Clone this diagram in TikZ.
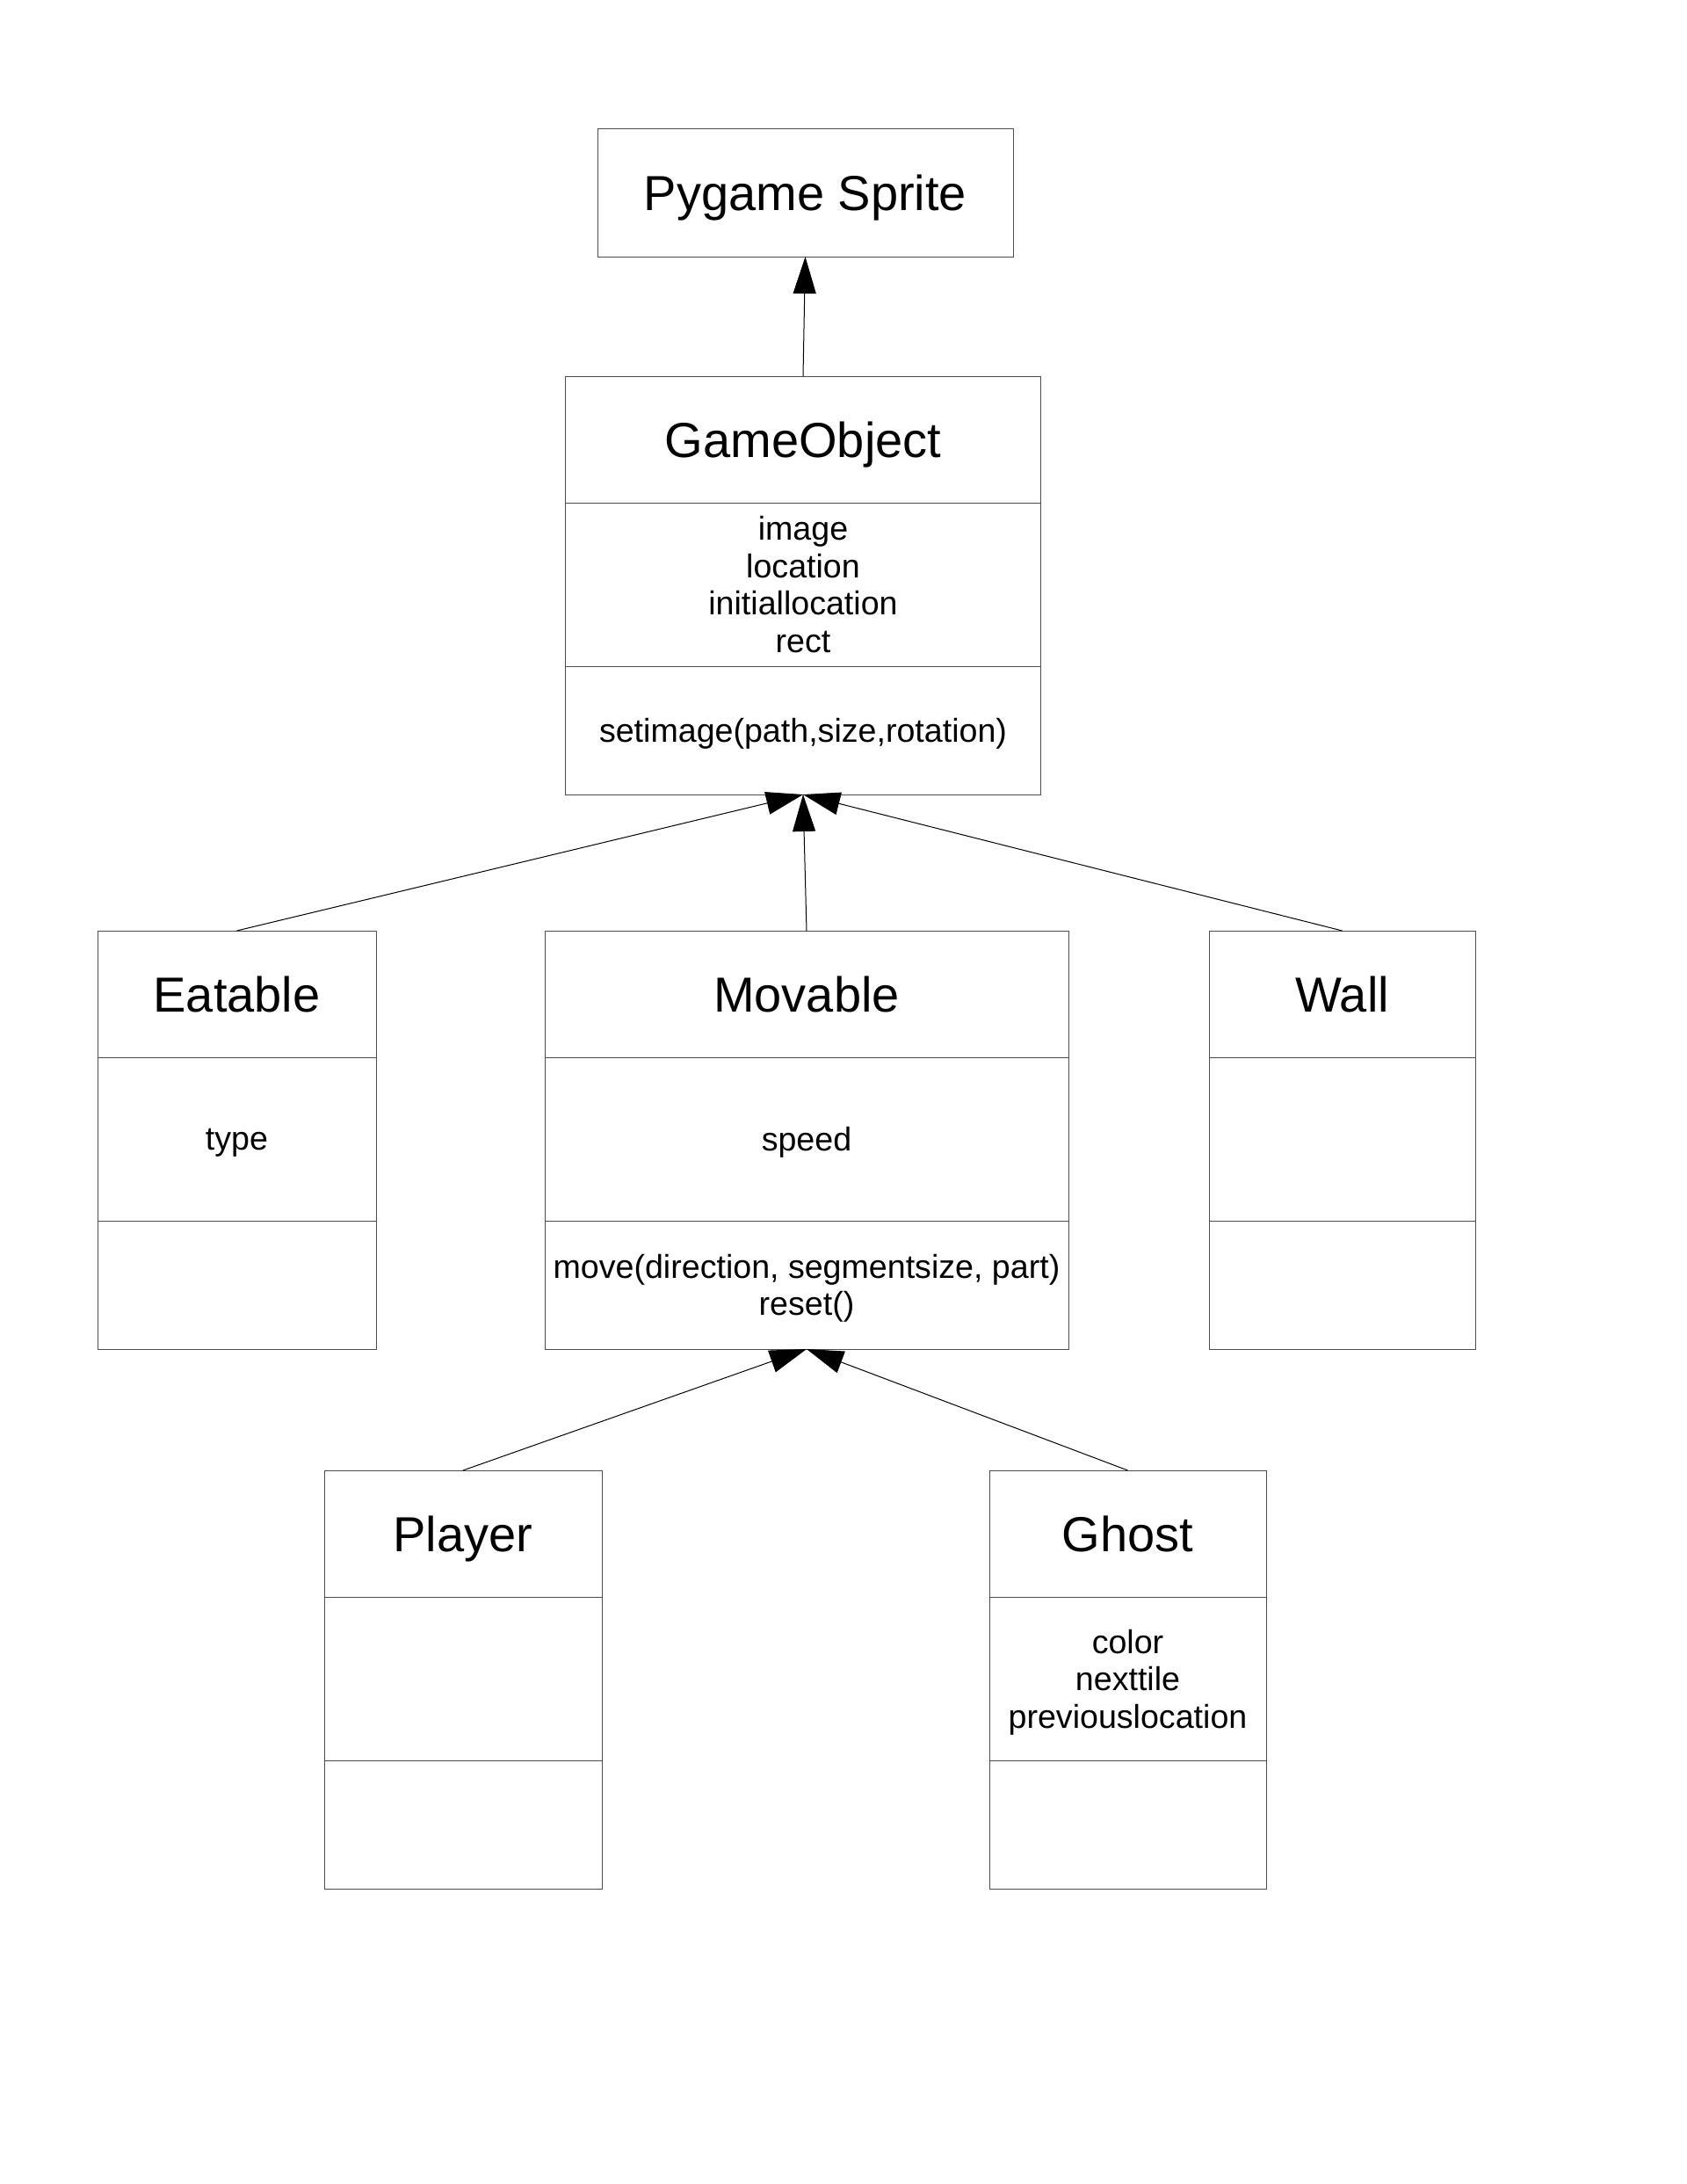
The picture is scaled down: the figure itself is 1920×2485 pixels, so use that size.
\documentclass[tikz,border=0pt]{standalone}
\usepackage{fontspec}
\setmainfont{Liberation Sans}
\usetikzlibrary{positioning,arrows.meta}
\tikzstyle{classname} = [draw=black!70, line width=0.5pt, fill=white,
rectangle, inner sep=0pt, outer sep=0pt, minimum height=72pt, text depth=0pt,
align=center, font=\fontsize{28}{33}\selectfont]
\tikzstyle{classattr} = [draw=black!70, line width=0.5pt, fill=white,
rectangle, inner sep=0pt, outer sep=0pt, minimum height=93pt, text depth=0pt,
align=center, font=\fontsize{18.8}{21.3}\selectfont]
\tikzstyle{classmeth} = [classattr, minimum height=73pt]
\tikzstyle{inherit} = [draw=black, line width=0.5pt,
-{Triangle[length=21pt,width=13pt]}]

\begin{document}
\begin{tikzpicture}[x=0.5pt,y=-0.5pt]
		\useasboundingbox (0,0) rectangle (1920,2485);
		% top
		\node [classname, minimum width=236.5pt, minimum height=73pt] (sprite) at (916.5,219) {Pygame Sprite};
		
		\node [classname, minimum width=270.4pt] (gameobj) at (914,500) {GameObject};
		\node [classattr, minimum width=270.4pt, below=0pt of gameobj] (gameobjattr) {image\\location\\initiallocation\\rect};
		\node [classmeth, minimum width=270.4pt, below=0pt of gameobjattr] (gameobjmeth) {setimage(path,size,rotation)};
		
		% second row
		\node [classname, minimum width=158.5pt] (eatable) at (269.5,1131) {Eatable};
		\node [classattr, minimum width=158.5pt, below=0pt of eatable] (eatableattr) {type};
		\node [classmeth, minimum width=158.5pt, below=0pt of eatableattr] (eatablemeth) {};
		
		\node [classname, minimum width=298pt] (movable) at (918,1131) {Movable};
		\node [classattr, minimum width=298pt, below=0pt of movable] (movableattr) {speed};
		\node [classmeth, minimum width=298pt, below=0pt of movableattr] (movablemeth) {move(direction, segmentsize, part)\\reset()};
		
		\node [classname, minimum width=151.5pt] (wall) at (1527.5,1131) {Wall};
		\node [classattr, minimum width=151.5pt, below=0pt of wall] (wallattr) {};
		\node [classmeth, minimum width=151.5pt, below=0pt of wallattr] (wallmeth) {};
		
		% third row
		\node [classname, minimum width=158pt] (player) at (527,1745) {Player};
		\node [classattr, minimum width=158pt, below=0pt of player] (playerattr) {};
		\node [classmeth, minimum width=158pt, below=0pt of playerattr] (playermeth) {};
		
		\node [classname, minimum width=157.5pt] (ghost) at (1283.5,1745) {Ghost};
		\node [classattr, minimum width=157.5pt, below=0pt of ghost] (ghostattr) {color\\nexttile\\previouslocation};
		\node [classmeth, minimum width=157.5pt, below=0pt of ghostattr] (ghostmeth) {};
		
		% inheritance
		\draw [inherit] (gameobj.north) -- (sprite.south);
		\draw [inherit] (eatable.north) -- (gameobjmeth.south);
		\draw [inherit] (movable.north) -- (gameobjmeth.south);
		\draw [inherit] (wall.north) -- (gameobjmeth.south);
		\draw [inherit] (player.north) -- (movablemeth.south);
		\draw [inherit] (ghost.north) -- (movablemeth.south);
\end{tikzpicture}
\end{document}
